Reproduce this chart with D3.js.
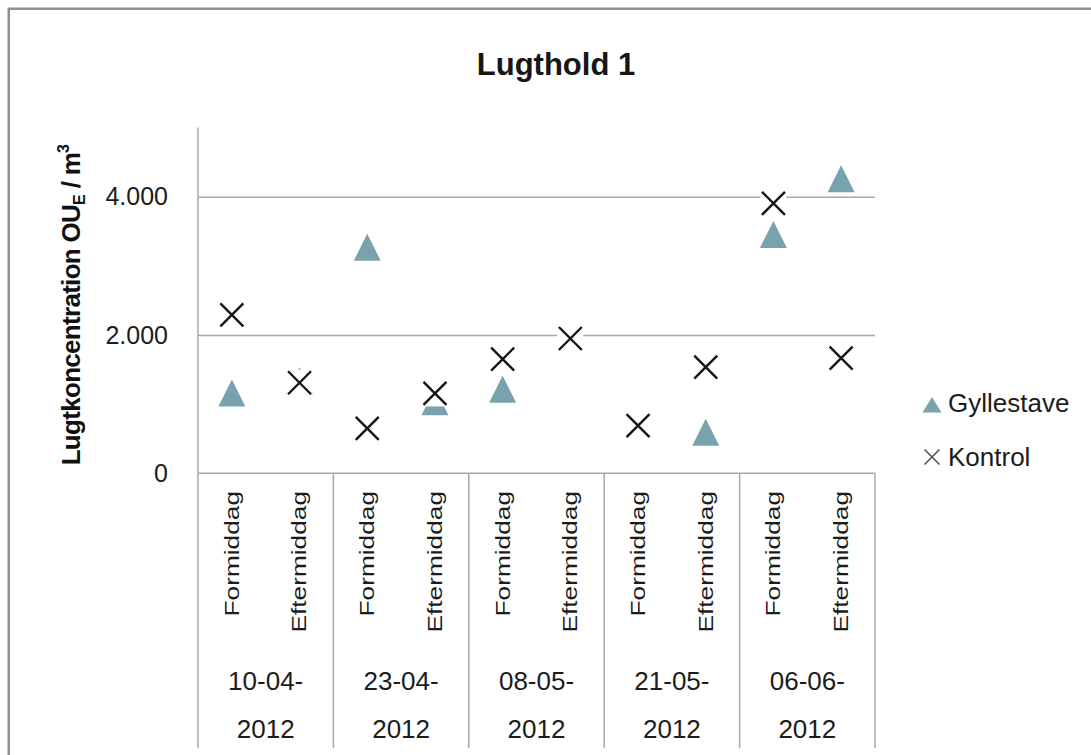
<!DOCTYPE html>
<html>
<head>
<meta charset="utf-8">
<script src="https://cdn.jsdelivr.net/npm/d3@7"></script>
<style>
  html, body { margin: 0; padding: 0; background: #fff; }
  svg { display: block; font-family: "Liberation Sans", Arial, sans-serif; }
</style>
</head>
<body>
<svg id="chart" width="1091" height="755"></svg>
<script>
// ---------------- data ----------------
const title = "Lugthold 1";
const dates = ["10-04-2012", "23-04-2012", "08-05-2012", "21-05-2012", "06-06-2012"];
const periods = ["Formiddag", "Eftermiddag"];
const gyllestave = [1160, 1340, 3270, 1035, 1215, null, null, 595, 3455, 4260];
const kontrol    = [2290, 1310, 650, 1155, 1650, 1950, 690, 1535, 3905, 1665];
const yTicks = [0, 2000, 4000];
const seriesNames = ["Gyllestave", "Kontrol"];

// categories built from dates x periods
const categories = [];
dates.forEach((d, gi) => periods.forEach((p, pi) => categories.push({ key: gi * 2 + pi, date: d, period: p })));

// ---------------- layout ----------------
const svg = d3.select("#chart");
const pL = 198, pR = 875, pT = 127.6, pB = 473.3, catBottom = 748;
const triColor = "#78a2ad";
const axisColor = "#a8a8a8";
const textColor = "#1c1c1c";

const x = d3.scaleBand().domain(categories.map(c => c.key)).range([pL, pR]).padding(0);
const y = d3.scaleLinear().domain([0, 5000]).range([pB, pT]);
const da = d3.formatLocale({ decimal: ",", thousands: ".", grouping: [3], currency: ["", " kr"] });
const fmt = da.format(",");

// outer frame
svg.append("rect").attr("x", 8.75).attr("y", 8.75).attr("width", 1300).attr("height", 1000)
  .attr("fill", "none").attr("stroke", "#8e8e8e").attr("stroke-width", 2.5);

// title
svg.append("text").attr("x", 556).attr("y", 75).attr("text-anchor", "middle")
  .attr("font-size", 31).attr("font-weight", "bold").attr("fill", "#161616").text(title);

// gridlines
const grid = svg.append("g").attr("transform", `translate(${pL},0)`)
  .call(d3.axisLeft(y).tickValues(yTicks.filter(v => v > 0)).tickSize(-(pR - pL)).tickFormat(""));
grid.select(".domain").remove();
grid.selectAll("line").attr("stroke", axisColor).attr("stroke-width", 1.5);

// y axis labels
const yAxis = svg.append("g").attr("transform", `translate(${pL},0)`)
  .call(d3.axisLeft(y).tickValues(yTicks).tickSize(0).tickPadding(30).tickFormat(fmt));
yAxis.select(".domain").remove();
yAxis.selectAll("text").attr("font-size", 25).attr("fill", textColor).attr("font-family", "Liberation Sans, Arial, sans-serif");

// axis lines
svg.append("line").attr("x1", pL).attr("x2", pL).attr("y1", pT).attr("y2", catBottom)
  .attr("stroke", axisColor).attr("stroke-width", 1.5);
svg.append("line").attr("x1", pL).attr("x2", pR).attr("y1", pB).attr("y2", pB)
  .attr("stroke", axisColor).attr("stroke-width", 1.5);
// group separators
dates.forEach((d, gi) => {
  const xe = x(gi * 2 + 1) + x.bandwidth();
  svg.append("line").attr("x1", xe).attr("x2", xe).attr("y1", pB).attr("y2", catBottom)
    .attr("stroke", axisColor).attr("stroke-width", 1.5);
});

// period labels (rotated)
svg.append("g").selectAll("text").data(categories).join("text")
  .attr("transform", c => `translate(${x(c.key) + x.bandwidth() / 2},491) rotate(-90) scale(1.25,1)`)
  .attr("text-anchor", "end").attr("dy", "0.33em")
  .attr("font-size", 21).attr("fill", textColor).text(c => c.period);

// date labels (wrapped on two lines)
dates.forEach((d, gi) => {
  const cx = x(gi * 2 + 1);
  const parts = [d.slice(0, 6), d.slice(6)];
  const t = svg.append("text").attr("text-anchor", "middle").attr("font-size", 26).attr("fill", textColor);
  t.append("tspan").attr("x", cx).attr("y", 690).text(parts[0]);
  t.append("tspan").attr("x", cx).attr("y", 738).text(parts[1]);
});

// y axis title
const yt = svg.append("text").attr("transform", "translate(80,305) rotate(-90)")
  .attr("text-anchor", "middle").attr("font-size", 26).attr("font-weight", "bold")
  .attr("fill", "#111").attr("letter-spacing", -0.7);
yt.append("tspan").text("Lugtkoncentration OU");
yt.append("tspan").attr("font-size", 16).attr("dy", 5).text("E");
yt.append("tspan").attr("dy", -5).text(" / m");
yt.append("tspan").attr("font-size", 16).attr("dy", -11).text("3");

// markers
function triPath(w) {
  const h = w;
  return `M0,${-h / 2}L${w / 2},${h / 2}L${-w / 2},${h / 2}Z`;
}
const gPts = gyllestave.map((v, i) => ({ i, v })).filter(d => d.v != null);
svg.append("g").selectAll("path").data(gPts).join("path")
  .attr("transform", d => `translate(${x(d.i) + x.bandwidth() / 2},${y(d.v)})`)
  .attr("d", triPath(27)).attr("fill", triColor);

const kPts = kontrol.map((v, i) => ({ i, v })).filter(d => d.v != null);
const kg = svg.append("g").selectAll("g").data(kPts).join("g")
  .attr("transform", d => `translate(${x(d.i) + x.bandwidth() / 2},${y(d.v)})`);
kg.append("rect").attr("x", -13).attr("y", -13).attr("width", 26).attr("height", 26).attr("fill", "#fff");
kg.append("path").attr("d", "M-11.5,-11.5L11.5,11.5M-11.5,11.5L11.5,-11.5")
  .attr("stroke", "#151515").attr("stroke-width", 2.4).attr("fill", "none");

// legend
const lg = svg.append("g");
lg.append("path").attr("transform", "translate(932,405)").attr("d", "M0,-8L9.5,7.5L-9.5,7.5Z").attr("fill", triColor);
lg.append("path").attr("transform", "translate(932,457)").attr("d", "M-7.5,-7.5L7.5,7.5M-7.5,7.5L7.5,-7.5")
  .attr("stroke", "#555").attr("stroke-width", 1.6);
lg.append("text").attr("x", 948).attr("y", 403).attr("dy", "0.35em").attr("font-size", 26).attr("fill", textColor).text(seriesNames[0]);
lg.append("text").attr("x", 948).attr("y", 457).attr("dy", "0.35em").attr("font-size", 26).attr("fill", textColor).text(seriesNames[1]);
</script>
</body>
</html>
